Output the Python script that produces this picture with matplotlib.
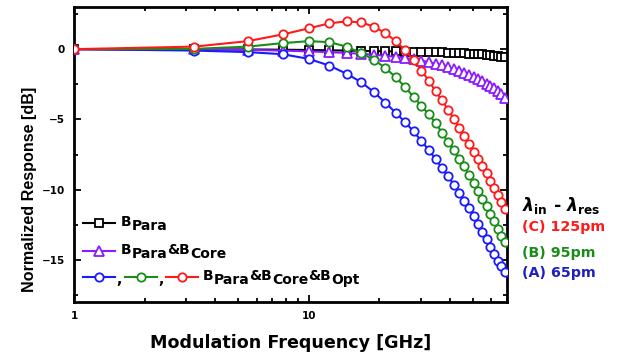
import numpy as np
import matplotlib
matplotlib.use("Agg")
import matplotlib.pyplot as plt
from matplotlib.lines import Line2D

plt.rcParams['font.family'] = ['DejaVu Sans']
plt.rcParams['font.weight'] = 'bold'
plt.rcParams['mathtext.fontset'] = 'custom'
plt.rcParams['mathtext.rm'] = 'DejaVu Sans:bold'
plt.rcParams['mathtext.bf'] = 'DejaVu Sans:bold'
plt.rcParams['mathtext.it'] = 'DejaVu Sans:bold:italic'

# modulation frequencies [GHz]
freq = [1.0, 3.25, 5.5, 7.75, 10.0, 12.25, 14.5, 16.75, 19.0, 21.25, 23.5,
        25.75, 28.0, 30.25, 32.5, 34.75, 37.0, 39.25, 41.5, 43.75, 46.0,
        48.25, 50.5, 52.75, 55.0, 57.25, 59.5, 61.75, 64.0, 66.25, 68.5]

# normalized response [dB]
b_para = [0, -0.01, -0.02, -0.04, -0.06, -0.08, -0.1, -0.12, -0.14, -0.15,
          -0.16, -0.17, -0.18, -0.19, -0.2, -0.21, -0.22, -0.24, -0.26, -0.28,
          -0.3, -0.32, -0.34, -0.36, -0.38, -0.41, -0.44, -0.47, -0.5, -0.53,
          -0.56]
b_para_core = [0, -0.02, -0.05, -0.1, -0.16, -0.21, -0.27, -0.33, -0.4, -0.47,
               -0.55, -0.63, -0.72, -0.82, -0.93, -1.04, -1.16, -1.28, -1.41,
               -1.54, -1.68, -1.82, -1.97, -2.12, -2.28, -2.45, -2.62, -2.8,
               -3.0, -3.2, -3.45]
opt_65 = [0, -0.1, -0.21, -0.36, -0.69, -1.17, -1.75, -2.35, -3.07, -3.82,
          -4.53, -5.19, -5.86, -6.54, -7.18, -7.83, -8.45, -9.03, -9.65,
          -10.24, -10.8, -11.32, -11.85, -12.43, -13.0, -13.55, -14.1, -14.6,
          -15.05, -15.45, -15.85]
opt_95 = [0, 0.02, 0.18, 0.43, 0.57, 0.5, 0.18, -0.28, -0.76, -1.35, -2.0,
          -2.7, -3.4, -4.05, -4.65, -5.25, -5.95, -6.6, -7.2, -7.8, -8.35,
          -8.95, -9.55, -10.1, -10.65, -11.2, -11.7, -12.25, -12.8, -13.3,
          -13.7]
opt_125 = [0, 0.18, 0.57, 1.05, 1.48, 1.84, 1.98, 1.9, 1.6, 1.13, 0.57, -0.07,
           -0.78, -1.52, -2.25, -3.0, -3.64, -4.3, -4.95, -5.59, -6.18, -6.77,
           -7.3, -7.8, -8.3, -8.85, -9.35, -9.85, -10.35, -10.85, -11.35]

RED = '#ff1a1a'
GREEN = '#1a8c1a'
BLUE = '#1a1aff'
PURPLE = '#8a1aff'

fig = plt.figure(figsize=(6.25, 3.58), dpi=100)
ax = fig.add_axes([0.1184, 0.1564, 0.6928, 0.824])

mk = dict(markerfacecolor='white', markeredgewidth=1.3, linewidth=1.5)
ax.plot(freq, b_para, color='black', marker='s', markersize=5.5, zorder=2, **mk)
ax.plot(freq, b_para_core, color=PURPLE, marker='^', markersize=7, zorder=3, **mk)
ax.plot(freq, opt_65, color=BLUE, marker='o', markersize=6, zorder=4, **mk)
ax.plot(freq, opt_95, color=GREEN, marker='o', markersize=6, zorder=5, **mk)
ax.plot(freq, opt_125, color=RED, marker='o', markersize=6, zorder=6, **mk)

ax.set_xscale('log')
ax.set_xlim(1, 70)
ax.set_ylim(-18, 3)
ax.set_yticks([0, -5, -10, -15])
ax.set_yticks(np.arange(-17.5, 3, 2.5), minor=True)
ax.set_xticks([1, 10])
ax.set_xticklabels(['1', '10'])
ax.xaxis.set_minor_formatter(plt.NullFormatter())
ax.tick_params(which='both', direction='in', top=True, right=True,
               labelsize=7.5, width=1.3)
ax.tick_params(which='major', length=5)
ax.tick_params(which='minor', length=3)
ax.tick_params(axis='x', pad=6.5)
ax.tick_params(axis='y', pad=6.5)
for s in ax.spines.values():
    s.set_linewidth(2)

ax.set_xlabel('Modulation Frequency [GHz]', fontsize=12.6, fontweight='bold',
              labelpad=9)
ax.set_ylabel('Normalized Response [dB]', fontsize=11.6, fontweight='bold',
              family='Liberation Sans')
ax.yaxis.set_label_coords(-0.0855, 0.383)


# legend drawn by hand so the three circle handles can share one label
def key(x0, y, color, marker, ms):
    ax.add_line(Line2D([x0, x0 + 0.074], [y, y], transform=ax.transAxes,
                       color=color, linewidth=1.5, clip_on=False))
    ax.add_line(Line2D([x0 + 0.037], [y], transform=ax.transAxes,
                       color=color, marker=marker, markersize=ms,
                       markerfacecolor='white', markeredgewidth=1.3,
                       clip_on=False))


def label(x, y, parts, size=10, drop=3.2):
    # parts: list of (text, is_subscript); subscripts keep full size
    prev = ax.text(x, y, parts[0][0], transform=ax.transAxes, fontsize=size,
                   va='center')
    level = -drop if parts[0][1] else 0.0
    for txt, sub in parts[1:]:
        new_level = -drop if sub else 0.0
        prev = ax.annotate(txt, xy=(1, 0), xycoords=prev,
                           xytext=(0, new_level - level),
                           textcoords='offset points', fontsize=size,
                           va='bottom', ha='left')
        level = new_level


leg_y = [0.268, 0.173, 0.085]
key(0.021, leg_y[0], 'black', 's', 5.5)
label(0.108, leg_y[0] + 0.004, [('B', False), ('Para', True)])
key(0.021, leg_y[1], PURPLE, '^', 7)
label(0.108, leg_y[1] + 0.004, [('B', False), ('Para', True), ('&B', False),
                                ('Core', True)])
key(0.021, leg_y[2], BLUE, 'o', 6)
ax.text(0.097, leg_y[2] - 0.01, ',', transform=ax.transAxes, fontsize=10,
        va='center')
key(0.118, leg_y[2], GREEN, 'o', 6)
ax.text(0.194, leg_y[2] - 0.01, ',', transform=ax.transAxes, fontsize=10,
        va='center')
key(0.212, leg_y[2], RED, 'o', 6)
label(0.298, leg_y[2] + 0.004, [('B', False), ('Para', True), ('&B', False),
                                ('Core', True), ('&B', False), ('Opt', True)])

# detuning labels to the right of the plot
fig.text(0.835, 0.427, r'$\lambda_{\mathrm{in}}$ - $\lambda_{\mathrm{res}}$',
         fontsize=12.5, va='center')
fig.text(0.835, 0.366, '(C) 125pm', color='#ff1a1a', fontsize=10.3, va='center')
fig.text(0.835, 0.293, '(B) 95pm', color='#1a8c1a', fontsize=10.3, va='center')
fig.text(0.835, 0.237, '(A) 65pm', color='#1f1fbf', fontsize=10.3, va='center')

fig.savefig('out.png', dpi=100)
